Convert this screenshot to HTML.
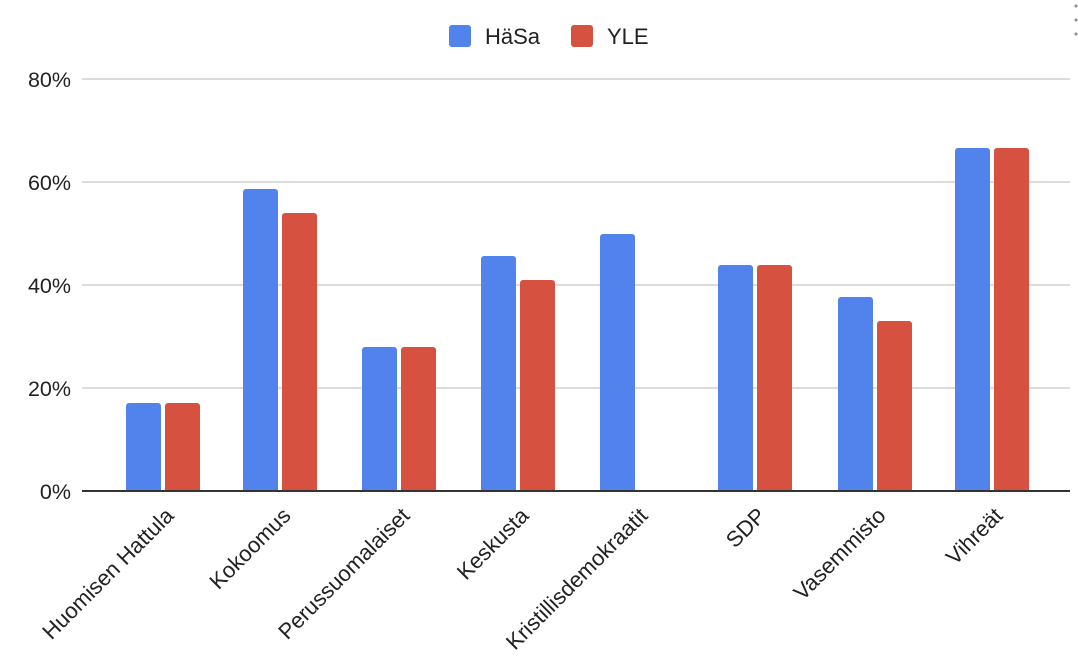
<!DOCTYPE html>
<html><head><meta charset="utf-8"><style>body{margin:0;background:#fff}svg{display:block}text{font-family:"Liberation Sans",Arial,sans-serif;fill:#222}</style></head><body>
<svg width="1078" height="661" viewBox="0 0 1078 661">
<defs><clipPath id="c"><rect x="0" y="0" width="1078" height="491"/></clipPath></defs>
<g stroke="#d0d0d0" stroke-width="1.5">
<line x1="82" y1="79" x2="1070" y2="79"/><line x1="82" y1="182" x2="1070" y2="182"/><line x1="82" y1="285" x2="1070" y2="285"/><line x1="82" y1="388" x2="1070" y2="388"/>
</g>
<g font-size="21.5" text-anchor="end">
<text x="71" y="87">80%</text><text x="71" y="190">60%</text><text x="71" y="293">40%</text><text x="71" y="396">20%</text><text x="71" y="499">0%</text>
</g>
<rect x="449" y="25" width="22" height="22" rx="3" fill="#5283ec"/><text x="485" y="44" font-size="22">HäSa</text>
<rect x="571" y="25" width="22" height="22" rx="3" fill="#d75140"/><text x="607" y="44" font-size="22">YLE</text>
<g clip-path="url(#c)">
<g fill="#5283ec">
<rect x="126" y="403" width="35" height="100" rx="3"/>
<rect x="243" y="189" width="35" height="314" rx="3"/>
<rect x="362" y="347" width="35" height="156" rx="3"/>
<rect x="481" y="256" width="35" height="247" rx="3"/>
<rect x="600" y="234" width="35" height="269" rx="3"/>
<rect x="718" y="265" width="35" height="238" rx="3"/>
<rect x="838" y="297" width="35" height="206" rx="3"/>
<rect x="955" y="148" width="35" height="355" rx="3"/>
</g>
<g fill="#d75140">
<rect x="165" y="403" width="35" height="100" rx="3"/>
<rect x="282" y="213" width="35" height="290" rx="3"/>
<rect x="401" y="347" width="35" height="156" rx="3"/>
<rect x="520" y="280" width="35" height="223" rx="3"/>
<rect x="757" y="265" width="35" height="238" rx="3"/>
<rect x="877" y="321" width="35" height="182" rx="3"/>
<rect x="994" y="148" width="35" height="355" rx="3"/>
</g>
</g>
<line x1="82" y1="491" x2="1070" y2="491" stroke="#333" stroke-width="2"/>
<g font-size="22" text-anchor="end">
<text transform="translate(175,517) rotate(-45)">Huomisen Hattula</text>
<text transform="translate(292,517) rotate(-45)">Kokoomus</text>
<text transform="translate(411,517) rotate(-45)">Perussuomalaiset</text>
<text transform="translate(530,517) rotate(-45)">Keskusta</text>
<text transform="translate(649,517) rotate(-45)">Kristillisdemokraatit</text>
<text transform="translate(767,517) rotate(-45)">SDP</text>
<text transform="translate(887,517) rotate(-45)">Vasemmisto</text>
<text transform="translate(1004,517) rotate(-45)">Vihreät</text>
</g>
<g fill="#888"><circle cx="1076" cy="6" r="1.5"/><circle cx="1076" cy="20" r="1.5"/><circle cx="1076" cy="34" r="1.5"/></g>
</svg>
</body></html>
